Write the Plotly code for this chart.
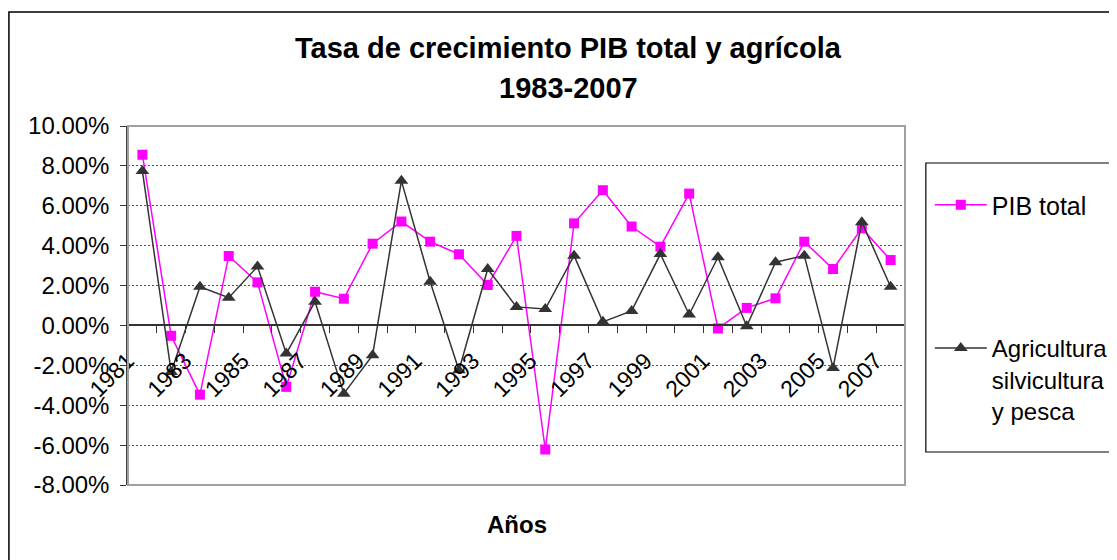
import plotly.graph_objects as go

# ---------------- data ----------------
years = list(range(1981, 2008))
pib_total = [8.56, -0.52, -3.47, 3.48, 2.16, -3.08, 1.69, 1.34, 4.10, 5.21,
             4.20, 3.57, 2.03, 4.49, -6.22, 5.12, 6.78, 4.96, 3.95, 6.61,
             -0.15, 0.88, 1.36, 4.20, 2.83, 4.87, 3.28]
agricultura = [7.75, -2.33, 1.94, 1.39, 2.95, -1.41, 1.19, -3.42, -1.49, 7.25,
               2.19, -2.25, 2.83, 0.93, 0.82, 3.50, 0.18, 0.73, 3.58, 0.55,
               3.42, -0.04, 3.17, 3.50, -2.13, 5.18, 1.94]
x_labels = [str(y) for y in years[::2]]
y_ticks = [-8, -6, -4, -2, 0, 2, 4, 6, 8, 10]
y_ticktext = [f"{v:.2f}%" for v in y_ticks]

title_line1 = "Tasa de crecimiento PIB total y agrícola"
title_line2 = "1983-2007"
x_title = "Años"
name_pib = "PIB total"
name_agr = "Agricultura<br>silvicultura<br>y pesca"

# ---------------- layout geometry (page pixels) ----------------
W_PX, H_PX = 1117, 560
OFF = 8  # browser body margin
L, R, T, B = 128, 911, 126, 485
PW, PH = R - L, B - T
FONT = "Liberation Sans, Arial, sans-serif"

def px_x(px):
    return (px - L) / PW

def px_y(py):
    return (B - py) / PH

y_min, y_max = y_ticks[0], y_ticks[-1]
zero_pos = (0 - y_min) / (y_max - y_min)

boundaries = [y - 0.5 for y in years] + [years[-1] + 0.5]

fig = go.Figure()
fig.add_trace(go.Scatter(
    x=years, y=pib_total, name=name_pib, mode="lines+markers",
    line=dict(color="#FF00FF", width=1.5),
    marker=dict(symbol="square", size=10, color="#FF00FF"),
    legend="legend"))
fig.add_trace(go.Scatter(
    x=years, y=agricultura, name=name_agr, mode="lines+markers",
    line=dict(color="#333333", width=1.5),
    marker=dict(symbol="triangle-up", size=12, color="#333333"),
    legend="legend2"))

fig.update_layout(
    width=W_PX, height=H_PX,
    margin=dict(l=L - OFF, r=W_PX - (R - OFF), t=T - OFF, b=H_PX - (B - OFF), pad=0),
    paper_bgcolor="white", plot_bgcolor="white",
    font=dict(family=FONT, size=24, color="black"),
    showlegend=True,
    legend=dict(x=px_x(936), y=px_y(205), xanchor="left", yanchor="middle",
                bgcolor="rgba(0,0,0,0)", borderwidth=0,
                font=dict(family=FONT, size=25, color="black"), itemwidth=52),
    legend2=dict(x=px_x(936), y=px_y(326), xanchor="left", yanchor="top",
                 bgcolor="rgba(0,0,0,0)", borderwidth=0, valign="top",
                 font=dict(family=FONT, size=24, color="black"), itemwidth=52),
    xaxis=dict(
        range=[boundaries[0], boundaries[-1]],
        anchor="free", position=zero_pos,
        tickmode="array", tickvals=years[::2], ticktext=x_labels,
        tickangle=-45, ticks="", showgrid=False, zeroline=False,
        ticklabelshift=-15, ticklabelstandoff=12,
        showline=True, linecolor="#333333", linewidth=1.5,
        tickfont=dict(family=FONT, size=23, color="black"),
        minor=dict(tickmode="array", tickvals=boundaries, ticks="outside",
                   ticklen=7, tickcolor="#333333", tickwidth=1, showgrid=False),
    ),
    yaxis=dict(
        range=[y_min, y_max], tickmode="array", tickvals=y_ticks,
        ticktext=y_ticktext, ticks="outside", ticklen=6, tickcolor="#333333",
        ticklabelstandoff=6,
        showline=True, linecolor="#404040", linewidth=1.5,
        showgrid=True, gridcolor="#555555", griddash="2px,2px", gridwidth=1,
        zeroline=False, tickfont=dict(family=FONT, size=24, color="black"),
    ),
    shapes=[
        dict(type="rect", xref="paper", yref="paper", x0=0, x1=1, y0=0, y1=1,
             line=dict(color="#A0A0A0", width=2), layer="above"),
        dict(type="rect", xref="paper", yref="paper",
             x0=px_x(8), x1=px_x(1130), y0=px_y(12), y1=px_y(575),
             line=dict(color="black", width=1.5)),
        dict(type="rect", xref="paper", yref="paper",
             x0=px_x(932), x1=px_x(1130), y0=px_y(163), y1=px_y(452),
             line=dict(color="black", width=1.2)),
    ],
    annotations=[
        dict(text=f"<b>{title_line1}</b>", xref="paper", yref="paper",
             x=px_x(572), y=px_y(48), xanchor="center", yanchor="middle",
             showarrow=False, font=dict(family=FONT, size=29, color="black")),
        dict(text=f"<b>{title_line2}</b>", xref="paper", yref="paper",
             x=px_x(572), y=px_y(88), xanchor="center", yanchor="middle",
             showarrow=False, font=dict(family=FONT, size=29, color="black")),
        dict(text=f"<b>{x_title}</b>", xref="paper", yref="paper",
             x=px_x(520), y=px_y(524), xanchor="center", yanchor="middle",
             showarrow=False, font=dict(family=FONT, size=24, color="black")),
    ],
)

fig.write_html("out.html")
